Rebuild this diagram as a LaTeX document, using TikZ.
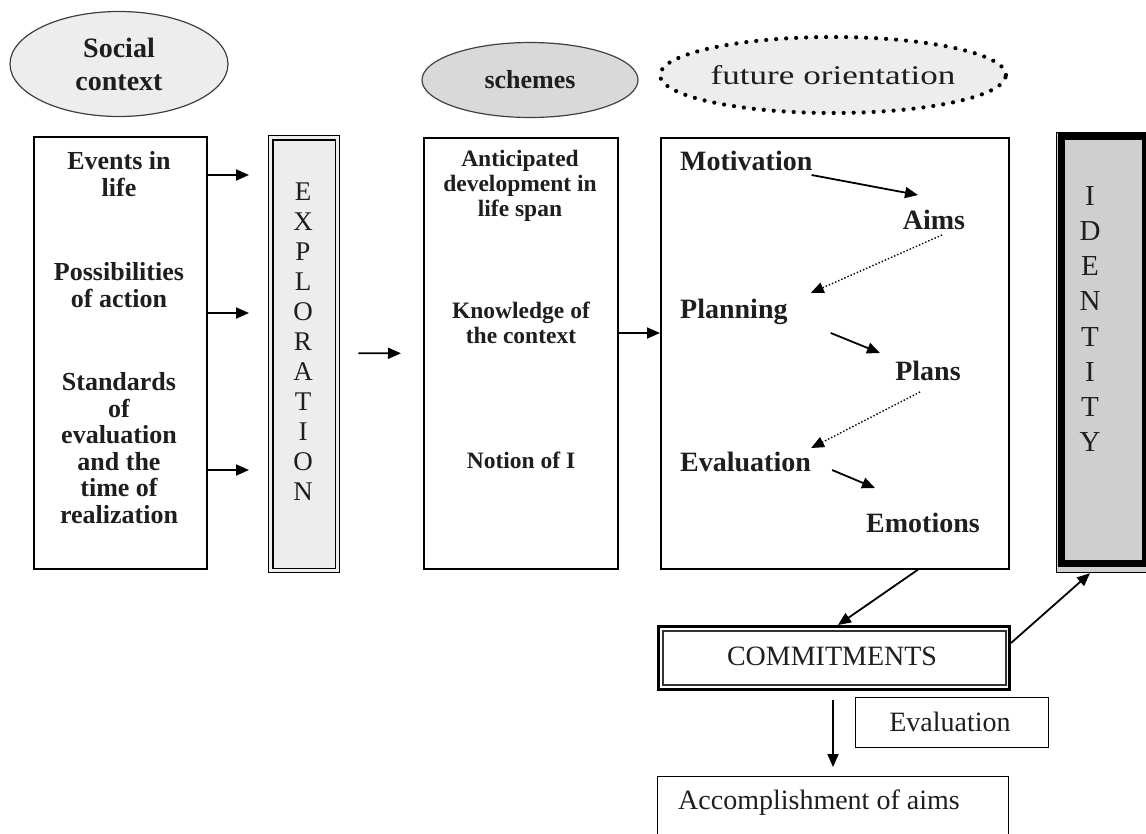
\documentclass[tikz,border=0pt]{standalone}
\usepackage{fontspec}
\usepackage{graphicx}
\setmainfont{Liberation Serif}
\usetikzlibrary{arrows.meta,calc,shapes.geometric}
\definecolor{txt}{HTML}{1E1E1E}
\definecolor{lightfill}{HTML}{EDEDED}
\definecolor{midfill}{HTML}{D9D9D9}
\definecolor{idfill}{HTML}{CFCFCF}
\tikzset{
  plainbox/.style={draw=black, line width=1.6pt, rectangle, inner sep=0pt, anchor=north west},
  lbl/.style={text=txt, inner sep=0pt, align=center},
  bigbold/.style={lbl, font=\bfseries\fontsize{28}{33}\selectfont},
  midbold/.style={lbl, font=\bfseries\fontsize{26}{26.5}\selectfont},
  smallbold/.style={lbl, font=\bfseries\fontsize{23.5}{25}\selectfont},
  reg/.style={lbl, font=\fontsize{28}{33}\selectfont},
  arr/.style={line width=1.8pt, -{Triangle[length=13pt,width=11pt]}},
  dotarr/.style={line width=1.4pt, dotted, -{Triangle[length=13pt,width=11pt]}},
  oval/.style={ellipse, inner sep=0pt, align=center, text=txt}
}
\begin{document}
\begin{tikzpicture}[x=1pt,y=-1pt]
\useasboundingbox (0,0) rectangle (1146,833);

% ---------- ellipses ----------
\node[oval, draw=black!75, line width=1.2pt, fill=lightfill, minimum width=218pt, minimum height=105pt,
      font=\bfseries\fontsize{28}{33}\selectfont] (soc) at (119,64) {Social\\context};
\node[oval, draw=black!75, line width=1.2pt, fill=midfill, minimum width=216pt, minimum height=75pt,
      font=\bfseries\fontsize{26}{30}\selectfont] (sch) at (530,80) {schemes};
\node[oval, draw=black, line width=4.2pt, line cap=round, dash pattern=on 0pt off 10pt, fill=lightfill,
      minimum width=314pt, minimum height=76pt, font=\fontsize{27}{30}\selectfont] (fut) at (833,75)
      {\scalebox{1.3}[1]{future orientation}};

% ---------- left box ----------
\node[plainbox, minimum width=173pt, minimum height=432pt] (lbox) at (33,136) {};
\node[midbold] (ev) at (119,174) {Events in\\life};
\node[midbold] (pos) at (119,285) {Possibilities\\of action};
\node[midbold] (std) at (119,448) {Standards\\of\\evaluation\\and the\\time of\\realization};

% ---------- EXPLORATION ----------
\node[plainbox, line width=1.4pt, fill=lightfill, minimum width=71pt, minimum height=437pt] (expl) at (268,135) {};
\draw[line width=1.3pt] ($(expl.north west)+(5,5)$) rectangle ($(expl.south east)+(-5,-5)$);
\node[lbl, font=\fontsize{27}{30}\selectfont] (explt) at (303,342) {E\\X\\P\\L\\O\\R\\A\\T\\I\\O\\N};

% ---------- schemes box ----------
\node[plainbox, minimum width=194pt, minimum height=431pt] (sbox) at (423,137) {};
\node[smallbold] (ant) at (520,186) {Anticipated\\development in\\life span};
\node[smallbold] (know) at (521,323) {Knowledge of\\the context};
\node[smallbold] (notion) at (521,460) {Notion of I};

% ---------- future orientation box ----------
\node[plainbox, minimum width=348pt, minimum height=431pt] (fbox) at (660,137) {};
\node[bigbold, anchor=west] (mot) at (680,161) {Motivation};
\node[bigbold] (aims) at (934,220) {Aims};
\node[bigbold, anchor=west] (plan) at (680,312) {Planning};
\node[bigbold] (plans) at (928,371) {Plans};
\node[bigbold, anchor=west] (eval) at (680,462) {Evaluation};
\node[bigbold] (emo) at (923,523) {Emotions};

% ---------- IDENTITY ----------
\node[plainbox, line width=1.2pt, fill=idfill, minimum width=96pt, minimum height=440pt] (idb) at (1056,132) {};
\draw[line width=7pt] (1061.5,136.5) rectangle (1145.5,563.5);
\node[lbl, font=\fontsize{29}{35.1}\selectfont] (idt) at (1090,319) {I\\D\\E\\N\\T\\I\\T\\Y};

% ---------- COMMITMENTS ----------
\node[plainbox, line width=3pt, minimum width=351pt, minimum height=63pt] (comm) at (657,625) {};
\draw[line width=1.2pt, draw=black!80] ($(comm.north west)+(6,6)$) rectangle ($(comm.south east)+(-5,-6)$);
\node[reg] (commt) at (832,656) {COMMITMENTS};

% ---------- Evaluation box ----------
\node[plainbox, line width=1.4pt, minimum width=193pt, minimum height=50pt] (evbox) at (855,697) {};
\node[reg] (evt) at (950,722) {Evaluation};

% ---------- Accomplishment box ----------
\node[plainbox, line width=1.4pt, minimum width=351pt, minimum height=90pt] (acc) at (657,776) {};
\node[reg, anchor=west] (acct) at (678,803) {Accomplishment of aims};

% ---------- connectors ----------
\draw[arr] ($(lbox.north east)+(0,39)$) -- ($(expl.north west)+(-19,40)$);
\draw[arr] ($(lbox.north east)+(0,177)$) -- ($(expl.north west)+(-19,178)$);
\draw[arr] ($(lbox.north east)+(0,334)$) -- ($(expl.north west)+(-19,335)$);
\draw[arr] ($(expl.east)+(18,-1)$) -- ($(sbox.west)+(-22,0)$);
\draw[arr] ($(sbox.north east)+(0,196)$) -- ($(fbox.north west)+(0,196)$);

\draw[arr] ($(mot.east)+(-1,14)$) -- ($(aims.center)+(-16,-25)$);
\draw[dotarr] ($(aims.center)+(8,15)$) -- ($(plan.east)+(23,-19)$);
\draw[arr] ($(plan.east)+(43,21)$) -- ($(plans.center)+(-48,-18)$);
\draw[dotarr] ($(plans.center)+(-8,21)$) -- ($(eval.east)+(0,-14)$);
\draw[arr] ($(eval.east)+(21,8)$) -- ($(emo.center)+(-48,-35)$);

\draw[arr] ($(fbox.south west)+(258,0)$) -- ($(comm.north west)+(181,0)$);
\draw[arr] ($(comm.north east)+(0,18)$) -- ($(idb.south west)+(34,0)$);
\draw[arr] ($(comm.south west)+(176,9)$) -- ($(acc.north west)+(176,-9)$);
\end{tikzpicture}
\end{document}
